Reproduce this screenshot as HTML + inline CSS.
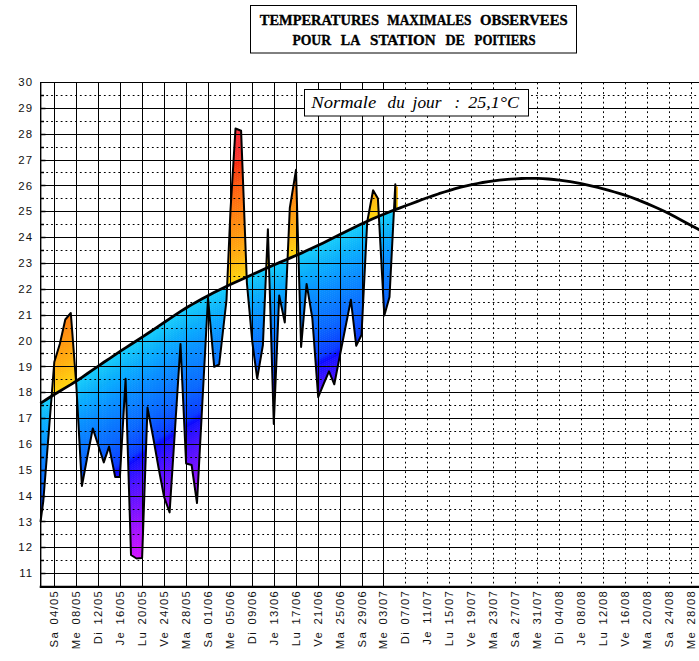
<!DOCTYPE html>
<html><head><meta charset="utf-8"><title>Températures maximales observées - Poitiers</title>
<style>
html,body{margin:0;padding:0;background:#fff;}
body{width:699px;height:661px;overflow:hidden;}
svg{display:block}
.s{stroke:#000;stroke-width:1;fill:none;shape-rendering:crispEdges}
.d{stroke:#000;stroke-width:1;fill:none;stroke-dasharray:1.8 3.0}
.yl{font-family:"Liberation Sans",sans-serif;font-size:11.4px;fill:#111;letter-spacing:1px}
.xl{font-family:"Liberation Sans",sans-serif;font-size:11.3px;fill:#111;letter-spacing:1.3px;word-spacing:2px}
.tt{font-family:"Liberation Serif",serif;font-weight:bold;font-size:15.5px;fill:#000;stroke:#000;stroke-width:0.35px}
.nt{font-family:"Liberation Serif",serif;font-style:italic;font-size:16.5px;fill:#000}
</style></head><body>
<svg width="699" height="661" viewBox="0 0 699 661">
<defs>
<clipPath id="cp"><path d="M40.5,522.0 L43.3,501.0 L48.8,432.0 L54.3,362.0 L59.8,344.0 L65.3,319.5 L70.8,313.0 L76.3,385.0 L81.9,486.0 L87.3,457.0 L92.8,428.4 L98.3,445.5 L103.8,462.4 L109.1,446.6 L115.2,477.0 L119.9,477.0 L125.6,378.7 L131.0,555.0 L136.5,558.5 L142.1,558.0 L147.5,407.6 L153.1,437.0 L158.6,468.0 L164.1,497.0 L169.6,512.4 L175.1,428.0 L180.5,343.9 L186.1,463.5 L191.6,465.0 L197.0,503.0 L202.5,400.0 L208.0,298.0 L214.2,366.8 L219.2,364.5 L226.5,300.0 L230.5,210.0 L235.5,128.5 L241.1,130.7 L246.9,283.0 L252.3,342.0 L257.2,378.6 L262.9,345.0 L267.9,229.3 L273.8,424.0 L279.2,295.5 L284.8,322.5 L289.8,208.0 L296.0,169.8 L301.1,347.0 L306.6,283.9 L312.3,318.0 L318.2,397.2 L323.6,384.0 L329.0,371.4 L334.3,384.3 L339.8,356.0 L345.3,328.0 L350.9,299.8 L356.2,345.7 L361.5,335.0 L367.2,222.0 L373.1,190.3 L377.9,198.6 L384.3,315.6 L389.5,297.0 L395.3,184.2 L397.9,187.2 L397.9,208.8 L394.6,209.9 L389.2,212.0 L383.7,214.2 L378.2,216.5 L372.8,218.8 L367.3,221.3 L361.8,223.8 L356.2,226.5 L350.6,229.2 L345.0,232.0 L339.4,234.8 L334.0,237.5 L328.6,240.2 L323.2,242.9 L317.8,245.5 L312.4,248.1 L306.9,250.6 L301.4,253.1 L295.9,255.5 L290.4,257.9 L284.9,260.3 L279.3,262.6 L273.8,265.0 L268.3,267.4 L262.8,269.8 L257.4,272.2 L251.9,274.7 L246.4,277.2 L240.9,279.7 L235.3,282.2 L229.8,284.8 L224.2,287.5 L218.6,290.2 L213.0,293.0 L207.5,295.9 L202.2,298.8 L196.9,301.7 L191.7,304.6 L186.4,307.8 L181.0,311.2 L175.7,314.7 L170.2,318.4 L164.8,322.0 L159.4,325.6 L153.9,329.3 L148.4,333.0 L142.9,336.6 L137.4,340.2 L131.9,343.7 L126.3,347.3 L120.8,350.9 L115.3,354.6 L109.8,358.3 L104.2,362.0 L98.7,365.8 L93.1,369.6 L87.5,373.5 L82.0,377.3 L76.4,381.0 L70.7,384.6 L64.8,388.1 L59.2,391.5 L54.3,394.5 L49.9,397.2 L46.0,399.7 L42.7,401.8 L40.5,403.2Z"/></clipPath>
<path id="b" d="M38.0,404.8 L40.4,403.3 L42.7,401.8 L46.0,399.7 L49.9,397.2 L54.3,394.5 L59.2,391.5 L64.8,388.1 L70.7,384.6 L76.4,381.0 L82.0,377.3 L87.5,373.5 L93.1,369.6 L98.7,365.8 L104.2,362.0 L109.8,358.3 L115.3,354.6 L120.8,350.9 L126.3,347.3 L131.9,343.7 L137.4,340.2 L142.9,336.6 L148.4,333.0 L153.9,329.3 L159.4,325.6 L164.8,322.0 L170.2,318.4 L175.7,314.7 L181.0,311.2 L186.4,307.8 L191.7,304.6 L196.9,301.7 L202.2,298.8 L207.5,295.9 L213.0,293.0 L218.6,290.2 L224.2,287.5 L229.8,284.8 L235.3,282.2 L240.9,279.7 L246.4,277.2 L251.9,274.7 L257.4,272.2 L262.8,269.8 L268.3,267.4 L273.8,265.0 L279.3,262.6 L284.9,260.3 L290.4,257.9 L295.9,255.5 L301.4,253.1 L306.9,250.6 L312.4,248.1 L317.8,245.5 L323.2,242.9 L328.6,240.2 L334.0,237.5 L339.4,234.8 L345.0,232.0 L350.6,229.2 L356.2,226.5 L361.8,223.8 L367.3,221.3 L372.8,218.8 L378.2,216.5 L383.7,214.2 L389.2,212.0 L394.6,209.9 L400.1,207.9 L400.1,210.5 L394.6,212.5 L389.2,214.6 L383.7,216.8 L378.2,219.1 L372.8,221.4 L367.3,223.9 L361.8,226.4 L356.2,229.1 L350.6,231.8 L345.0,234.6 L339.4,237.4 L334.0,240.1 L328.6,242.8 L323.2,245.5 L317.8,248.1 L312.4,250.7 L306.9,253.2 L301.4,255.7 L295.9,258.1 L290.4,260.5 L284.9,262.9 L279.3,265.2 L273.8,267.6 L268.3,270.0 L262.8,272.4 L257.4,274.8 L251.9,277.3 L246.4,279.8 L240.9,282.3 L235.3,284.8 L229.8,287.4 L224.2,290.1 L218.6,292.8 L213.0,295.6 L207.5,298.5 L202.2,301.4 L196.9,304.3 L191.7,307.2 L186.4,310.4 L181.0,313.8 L175.7,317.3 L170.2,321.0 L164.8,324.6 L159.4,328.2 L153.9,331.9 L148.4,335.6 L142.9,339.2 L137.4,342.8 L131.9,346.3 L126.3,349.9 L120.8,353.5 L115.3,357.2 L109.8,360.9 L104.2,364.6 L98.7,368.4 L93.1,372.2 L87.5,376.1 L82.0,379.9 L76.4,383.6 L70.7,387.2 L64.8,390.8 L59.2,394.1 L54.3,397.1 L49.9,399.8 L46.0,402.3 L42.7,404.4 L40.4,405.9 L38.0,407.4Z"/>
</defs>
<rect width="699" height="661" fill="#fff"/>
<g clip-path="url(#cp)">
<use href="#b" y="-164" fill="#f73147"/>
<use href="#b" y="-162" fill="#f73145"/>
<use href="#b" y="-160" fill="#f73144"/>
<use href="#b" y="-158" fill="#f73143"/>
<use href="#b" y="-156" fill="#f73141"/>
<use href="#b" y="-154" fill="#f73140"/>
<use href="#b" y="-152" fill="#f7313f"/>
<use href="#b" y="-150" fill="#f7313d"/>
<use href="#b" y="-148" fill="#f7313c"/>
<use href="#b" y="-146" fill="#f7313a"/>
<use href="#b" y="-144" fill="#f73139"/>
<use href="#b" y="-142" fill="#f73137"/>
<use href="#b" y="-140" fill="#f73135"/>
<use href="#b" y="-138" fill="#f73134"/>
<use href="#b" y="-136" fill="#f73132"/>
<use href="#b" y="-134" fill="#f73131"/>
<use href="#b" y="-132" fill="#f73331"/>
<use href="#b" y="-130" fill="#f73431"/>
<use href="#b" y="-128" fill="#f73631"/>
<use href="#b" y="-126" fill="#f73831"/>
<use href="#b" y="-124" fill="#f73c31"/>
<use href="#b" y="-122" fill="#f74131"/>
<use href="#b" y="-120" fill="#f72911"/>
<use href="#b" y="-118" fill="#f72f11"/>
<use href="#b" y="-116" fill="#f73511"/>
<use href="#b" y="-114" fill="#f73a11"/>
<use href="#b" y="-112" fill="#f74011"/>
<use href="#b" y="-110" fill="#f74411"/>
<use href="#b" y="-108" fill="#f74711"/>
<use href="#b" y="-106" fill="#f74a11"/>
<use href="#b" y="-104" fill="#f74e11"/>
<use href="#b" y="-102" fill="#f75111"/>
<use href="#b" y="-100" fill="#ff5711"/>
<use href="#b" y="-98" fill="#ff5a11"/>
<use href="#b" y="-96" fill="#ff5d11"/>
<use href="#b" y="-94" fill="#ff6011"/>
<use href="#b" y="-92" fill="#ff6311"/>
<use href="#b" y="-90" fill="#ff6711"/>
<use href="#b" y="-88" fill="#ff6a11"/>
<use href="#b" y="-86" fill="#ff6c11"/>
<use href="#b" y="-84" fill="#ff6e11"/>
<use href="#b" y="-82" fill="#ff7111"/>
<use href="#b" y="-80" fill="#ff7311"/>
<use href="#b" y="-78" fill="#ff7611"/>
<use href="#b" y="-76" fill="#ff7811"/>
<use href="#b" y="-74" fill="#ff7a11"/>
<use href="#b" y="-72" fill="#ff7d11"/>
<use href="#b" y="-70" fill="#ff7f11"/>
<use href="#b" y="-68" fill="#ff8111"/>
<use href="#b" y="-66" fill="#ff8411"/>
<use href="#b" y="-64" fill="#ff8611"/>
<use href="#b" y="-62" fill="#ff8811"/>
<use href="#b" y="-60" fill="#ff8b11"/>
<use href="#b" y="-58" fill="#ff8d11"/>
<use href="#b" y="-56" fill="#ff8f11"/>
<use href="#b" y="-54" fill="#ff9111"/>
<use href="#b" y="-52" fill="#ff9411"/>
<use href="#b" y="-50" fill="#ff9611"/>
<use href="#b" y="-48" fill="#ff9811"/>
<use href="#b" y="-46" fill="#ff9a11"/>
<use href="#b" y="-44" fill="#ff9d11"/>
<use href="#b" y="-42" fill="#ff9f11"/>
<use href="#b" y="-40" fill="#ffa111"/>
<use href="#b" y="-38" fill="#ffa311"/>
<use href="#b" y="-36" fill="#ffa511"/>
<use href="#b" y="-34" fill="#ffa811"/>
<use href="#b" y="-32" fill="#ffaa11"/>
<use href="#b" y="-30" fill="#ffac11"/>
<use href="#b" y="-28" fill="#ffae11"/>
<use href="#b" y="-26" fill="#ffb111"/>
<use href="#b" y="-24" fill="#ffb411"/>
<use href="#b" y="-22" fill="#ffb711"/>
<use href="#b" y="-20" fill="#ffba11"/>
<use href="#b" y="-18" fill="#ffbd11"/>
<use href="#b" y="-16" fill="#ffc011"/>
<use href="#b" y="-14" fill="#ffc311"/>
<use href="#b" y="-12" fill="#ffc611"/>
<use href="#b" y="-10" fill="#ffc911"/>
<use href="#b" y="-8" fill="#ffcc11"/>
<use href="#b" y="-6" fill="#ffcf11"/>
<use href="#b" y="-4" fill="#ffd211"/>
<use href="#b" y="-2" fill="#ffd511"/>
<use href="#b" y="0" fill="#18ccfb"/>
<use href="#b" y="2" fill="#17c9fb"/>
<use href="#b" y="4" fill="#16c7fb"/>
<use href="#b" y="6" fill="#14c4fb"/>
<use href="#b" y="8" fill="#13c1fb"/>
<use href="#b" y="10" fill="#12befb"/>
<use href="#b" y="12" fill="#11bbfb"/>
<use href="#b" y="14" fill="#10b8fb"/>
<use href="#b" y="16" fill="#0eb6fb"/>
<use href="#b" y="18" fill="#0db3fb"/>
<use href="#b" y="20" fill="#0cb0fb"/>
<use href="#b" y="22" fill="#0badfb"/>
<use href="#b" y="24" fill="#0aacff"/>
<use href="#b" y="26" fill="#0aaaff"/>
<use href="#b" y="28" fill="#0aa7ff"/>
<use href="#b" y="30" fill="#0aa4ff"/>
<use href="#b" y="32" fill="#0aa2ff"/>
<use href="#b" y="34" fill="#0a9fff"/>
<use href="#b" y="36" fill="#0a9cff"/>
<use href="#b" y="38" fill="#0a9aff"/>
<use href="#b" y="40" fill="#0a97ff"/>
<use href="#b" y="42" fill="#0a94ff"/>
<use href="#b" y="44" fill="#0a92ff"/>
<use href="#b" y="46" fill="#0a8fff"/>
<use href="#b" y="48" fill="#0a8dff"/>
<use href="#b" y="50" fill="#0a8bff"/>
<use href="#b" y="52" fill="#0a89ff"/>
<use href="#b" y="54" fill="#0a87ff"/>
<use href="#b" y="56" fill="#0a85ff"/>
<use href="#b" y="58" fill="#0a83ff"/>
<use href="#b" y="60" fill="#0a81ff"/>
<use href="#b" y="62" fill="#0a7fff"/>
<use href="#b" y="64" fill="#0a7cff"/>
<use href="#b" y="66" fill="#0a7aff"/>
<use href="#b" y="68" fill="#0a78ff"/>
<use href="#b" y="70" fill="#0a76ff"/>
<use href="#b" y="72" fill="#0a74ff"/>
<use href="#b" y="74" fill="#0a72ff"/>
<use href="#b" y="76" fill="#0a70ff"/>
<use href="#b" y="78" fill="#0a6eff"/>
<use href="#b" y="80" fill="#0a6cff"/>
<use href="#b" y="82" fill="#0a6aff"/>
<use href="#b" y="84" fill="#0a68ff"/>
<use href="#b" y="86" fill="#0a64ff"/>
<use href="#b" y="88" fill="#0a61ff"/>
<use href="#b" y="90" fill="#0a5eff"/>
<use href="#b" y="92" fill="#0a5aff"/>
<use href="#b" y="94" fill="#0a57ff"/>
<use href="#b" y="96" fill="#0a54ff"/>
<use href="#b" y="98" fill="#0a50ff"/>
<use href="#b" y="100" fill="#0a4dff"/>
<use href="#b" y="102" fill="#0a4aff"/>
<use href="#b" y="104" fill="#0a46ff"/>
<use href="#b" y="106" fill="#0a43ff"/>
<use href="#b" y="108" fill="#0a40ff"/>
<use href="#b" y="110" fill="#0a3cff"/>
<use href="#b" y="112" fill="#0a33ff"/>
<use href="#b" y="114" fill="#0a22ff"/>
<use href="#b" y="116" fill="#0a12ff"/>
<use href="#b" y="118" fill="#0c0aff"/>
<use href="#b" y="120" fill="#1911ff"/>
<use href="#b" y="122" fill="#1d11ff"/>
<use href="#b" y="124" fill="#2211ff"/>
<use href="#b" y="126" fill="#2711ff"/>
<use href="#b" y="128" fill="#2c11ff"/>
<use href="#b" y="130" fill="#3111ff"/>
<use href="#b" y="132" fill="#3511ff"/>
<use href="#b" y="134" fill="#3a11ff"/>
<use href="#b" y="136" fill="#3f11ff"/>
<use href="#b" y="138" fill="#4411ff"/>
<use href="#b" y="140" fill="#4911ff"/>
<use href="#b" y="142" fill="#4c11ff"/>
<use href="#b" y="144" fill="#5011ff"/>
<use href="#b" y="146" fill="#5411ff"/>
<use href="#b" y="148" fill="#5711ff"/>
<use href="#b" y="150" fill="#5b11ff"/>
<use href="#b" y="152" fill="#5f11ff"/>
<use href="#b" y="154" fill="#6211ff"/>
<use href="#b" y="156" fill="#6611ff"/>
<use href="#b" y="158" fill="#6a11ff"/>
<use href="#b" y="160" fill="#6d11ff"/>
<use href="#b" y="162" fill="#7111ff"/>
<use href="#b" y="164" fill="#7411ff"/>
<use href="#b" y="166" fill="#7811ff"/>
<use href="#b" y="168" fill="#7c11ff"/>
<use href="#b" y="170" fill="#8011ff"/>
<use href="#b" y="172" fill="#8411ff"/>
<use href="#b" y="174" fill="#8711ff"/>
<use href="#b" y="176" fill="#8b11ff"/>
<use href="#b" y="178" fill="#8f11ff"/>
<use href="#b" y="180" fill="#9311ff"/>
<use href="#b" y="182" fill="#9711ff"/>
<use href="#b" y="184" fill="#9a11ff"/>
<use href="#b" y="186" fill="#9e11ff"/>
<use href="#b" y="188" fill="#a211ff"/>
<use href="#b" y="190" fill="#a611ff"/>
<use href="#b" y="192" fill="#aa11ff"/>
<use href="#b" y="194" fill="#ad11ff"/>
<use href="#b" y="196" fill="#b011ff"/>
<use href="#b" y="198" fill="#b411ff"/>
<use href="#b" y="200" fill="#b711ff"/>
<use href="#b" y="202" fill="#ba11ff"/>
<use href="#b" y="204" fill="#be11ff"/>
<use href="#b" y="206" fill="#c111ff"/>
<use href="#b" y="208" fill="#c411ff"/>
<use href="#b" y="210" fill="#c811ff"/>
<use href="#b" y="212" fill="#cb11ff"/>
<use href="#b" y="214" fill="#ce11ff"/>
<use href="#b" y="216" fill="#d111ff"/>
<use href="#b" y="218" fill="#d411ff"/>
<use href="#b" y="220" fill="#d711ff"/>
<use href="#b" y="222" fill="#da11ff"/>
<use href="#b" y="224" fill="#dd11ff"/>
<use href="#b" y="226" fill="#e011ff"/>
<use href="#b" y="228" fill="#e311ff"/>
<use href="#b" y="230" fill="#e511ff"/>
</g>
<g>
<path d="M40.5,573.5H699" class="s"/>
<path d="M40.5,547.5H699" class="s"/>
<path d="M40.5,521.5H699" class="s"/>
<path d="M40.5,496.5H699" class="s"/>
<path d="M40.5,470.5H699" class="s"/>
<path d="M40.5,444.5H699" class="s"/>
<path d="M40.5,418.5H699" class="s"/>
<path d="M40.5,392.5H699" class="s"/>
<path d="M40.5,366.5H699" class="s"/>
<path d="M40.5,341.5H699" class="s"/>
<path d="M40.5,315.5H699" class="s"/>
<path d="M40.5,289.5H699" class="s"/>
<path d="M40.5,263.5H699" class="s"/>
<path d="M40.5,237.5H699" class="s"/>
<path d="M40.5,211.5H699" class="s"/>
<path d="M40.5,185.5H699" class="s"/>
<path d="M40.5,160.5H699" class="s"/>
<path d="M40.5,134.5H699" class="s"/>
<path d="M40.5,108.5H699" class="s"/>
<path d="M40.5,82.5H699" class="s"/>
<path d="M41.5,560.5H699" class="d"/>
<path d="M41.5,534.5H699" class="d"/>
<path d="M41.5,509.5H699" class="d"/>
<path d="M41.5,483.5H699" class="d"/>
<path d="M41.5,457.5H699" class="d"/>
<path d="M41.5,431.5H699" class="d"/>
<path d="M41.5,405.5H699" class="d"/>
<path d="M41.5,379.5H699" class="d"/>
<path d="M41.5,353.5H699" class="d"/>
<path d="M41.5,328.5H699" class="d"/>
<path d="M41.5,302.5H699" class="d"/>
<path d="M41.5,276.5H699" class="d"/>
<path d="M41.5,250.5H699" class="d"/>
<path d="M41.5,224.5H699" class="d"/>
<path d="M41.5,198.5H699" class="d"/>
<path d="M41.5,172.5H699" class="d"/>
<path d="M41.5,147.5H699" class="d"/>
<path d="M41.5,121.5H699" class="d"/>
<path d="M41.5,95.5H699" class="d"/>
<path d="M54.5,82.5V586.6" class="s"/>
<path d="M76.5,82.5V586.6" class="s"/>
<path d="M98.5,82.5V586.6" class="s"/>
<path d="M120.5,82.5V586.6" class="s"/>
<path d="M142.5,82.5V586.6" class="s"/>
<path d="M164.5,82.5V586.6" class="s"/>
<path d="M186.5,82.5V586.6" class="s"/>
<path d="M208.5,82.5V586.6" class="s"/>
<path d="M230.5,82.5V586.6" class="s"/>
<path d="M252.5,82.5V586.6" class="s"/>
<path d="M274.5,82.5V586.6" class="s"/>
<path d="M296.5,82.5V586.6" class="s"/>
<path d="M318.5,82.5V586.6" class="s"/>
<path d="M340.5,82.5V586.6" class="s"/>
<path d="M362.5,82.5V586.6" class="s"/>
<path d="M383.5,82.5V586.6" class="s"/>
<path d="M405.5,82.5V586.6" class="d"/>
<path d="M427.5,82.5V586.6" class="d"/>
<path d="M449.5,82.5V586.6" class="d"/>
<path d="M471.5,82.5V586.6" class="d"/>
<path d="M493.5,82.5V586.6" class="d"/>
<path d="M515.5,82.5V586.6" class="d"/>
<path d="M537.5,82.5V586.6" class="d"/>
<path d="M559.5,82.5V586.6" class="d"/>
<path d="M581.5,82.5V586.6" class="d"/>
<path d="M603.5,82.5V586.6" class="d"/>
<path d="M625.5,82.5V586.6" class="d"/>
<path d="M647.5,82.5V586.6" class="d"/>
<path d="M669.5,82.5V586.6" class="d"/>
<path d="M691.5,82.5V586.6" class="d"/>
</g>
<g><path d="M40.5,573.5h5" stroke="#000" stroke-width="1.5"/>
<path d="M40.5,560.5h3.5" stroke="#000" stroke-width="1.5"/>
<path d="M40.5,547.5h5" stroke="#000" stroke-width="1.5"/>
<path d="M40.5,534.5h3.5" stroke="#000" stroke-width="1.5"/>
<path d="M40.5,521.5h5" stroke="#000" stroke-width="1.5"/>
<path d="M40.5,509.5h3.5" stroke="#000" stroke-width="1.5"/>
<path d="M40.5,496.5h5" stroke="#000" stroke-width="1.5"/>
<path d="M40.5,483.5h3.5" stroke="#000" stroke-width="1.5"/>
<path d="M40.5,470.5h5" stroke="#000" stroke-width="1.5"/>
<path d="M40.5,457.5h3.5" stroke="#000" stroke-width="1.5"/>
<path d="M40.5,444.5h5" stroke="#000" stroke-width="1.5"/>
<path d="M40.5,431.5h3.5" stroke="#000" stroke-width="1.5"/>
<path d="M40.5,418.5h5" stroke="#000" stroke-width="1.5"/>
<path d="M40.5,405.5h3.5" stroke="#000" stroke-width="1.5"/>
<path d="M40.5,392.5h5" stroke="#000" stroke-width="1.5"/>
<path d="M40.5,379.5h3.5" stroke="#000" stroke-width="1.5"/>
<path d="M40.5,366.5h5" stroke="#000" stroke-width="1.5"/>
<path d="M40.5,353.5h3.5" stroke="#000" stroke-width="1.5"/>
<path d="M40.5,341.5h5" stroke="#000" stroke-width="1.5"/>
<path d="M40.5,328.5h3.5" stroke="#000" stroke-width="1.5"/>
<path d="M40.5,315.5h5" stroke="#000" stroke-width="1.5"/>
<path d="M40.5,302.5h3.5" stroke="#000" stroke-width="1.5"/>
<path d="M40.5,289.5h5" stroke="#000" stroke-width="1.5"/>
<path d="M40.5,276.5h3.5" stroke="#000" stroke-width="1.5"/>
<path d="M40.5,263.5h5" stroke="#000" stroke-width="1.5"/>
<path d="M40.5,250.5h3.5" stroke="#000" stroke-width="1.5"/>
<path d="M40.5,237.5h5" stroke="#000" stroke-width="1.5"/>
<path d="M40.5,224.5h3.5" stroke="#000" stroke-width="1.5"/>
<path d="M40.5,211.5h5" stroke="#000" stroke-width="1.5"/>
<path d="M40.5,198.5h3.5" stroke="#000" stroke-width="1.5"/>
<path d="M40.5,185.5h5" stroke="#000" stroke-width="1.5"/>
<path d="M40.5,172.5h3.5" stroke="#000" stroke-width="1.5"/>
<path d="M40.5,160.5h5" stroke="#000" stroke-width="1.5"/>
<path d="M40.5,147.5h3.5" stroke="#000" stroke-width="1.5"/>
<path d="M40.5,134.5h5" stroke="#000" stroke-width="1.5"/>
<path d="M40.5,121.5h3.5" stroke="#000" stroke-width="1.5"/>
<path d="M40.5,108.5h5" stroke="#000" stroke-width="1.5"/>
<path d="M40.5,95.5h3.5" stroke="#000" stroke-width="1.5"/></g>
<path d="M40.5,522.0 L43.3,501.0 L48.8,432.0 L54.3,362.0 L59.8,344.0 L65.3,319.5 L70.8,313.0 L76.3,385.0 L81.9,486.0 L87.3,457.0 L92.8,428.4 L98.3,445.5 L103.8,462.4 L109.1,446.6 L115.2,477.0 L119.9,477.0 L125.6,378.7 L131.0,555.0 L136.5,558.5 L142.1,558.0 L147.5,407.6 L153.1,437.0 L158.6,468.0 L164.1,497.0 L169.6,512.4 L175.1,428.0 L180.5,343.9 L186.1,463.5 L191.6,465.0 L197.0,503.0 L202.5,400.0 L208.0,298.0 L214.2,366.8 L219.2,364.5 L226.5,300.0 L230.5,210.0 L235.5,128.5 L241.1,130.7 L246.9,283.0 L252.3,342.0 L257.2,378.6 L262.9,345.0 L267.9,229.3 L273.8,424.0 L279.2,295.5 L284.8,322.5 L289.8,208.0 L296.0,169.8 L301.1,347.0 L306.6,283.9 L312.3,318.0 L318.2,397.2 L323.6,384.0 L329.0,371.4 L334.3,384.3 L339.8,356.0 L345.3,328.0 L350.9,299.8 L356.2,345.7 L361.5,335.0 L367.2,222.0 L373.1,190.3 L377.9,198.6 L384.3,315.6 L389.5,297.0 L395.3,184.2V209.8" fill="none" stroke="#000" stroke-width="2" stroke-linejoin="round"/>
<path d="M40.4,403.3 L42.7,401.8 L46.0,399.7 L49.9,397.2 L54.3,394.5 L59.2,391.5 L64.8,388.1 L70.7,384.6 L76.4,381.0 L82.0,377.3 L87.5,373.5 L93.1,369.6 L98.7,365.8 L104.2,362.0 L109.8,358.3 L115.3,354.6 L120.8,350.9 L126.3,347.3 L131.9,343.7 L137.4,340.2 L142.9,336.6 L148.4,333.0 L153.9,329.3 L159.4,325.6 L164.8,322.0 L170.2,318.4 L175.7,314.7 L181.0,311.2 L186.4,307.8 L191.7,304.6 L196.9,301.7 L202.2,298.8 L207.5,295.9 L213.0,293.0 L218.6,290.2 L224.2,287.5 L229.8,284.8 L235.3,282.2 L240.9,279.7 L246.4,277.2 L251.9,274.7 L257.4,272.2 L262.8,269.8 L268.3,267.4 L273.8,265.0 L279.3,262.6 L284.9,260.3 L290.4,257.9 L295.9,255.5 L301.4,253.1 L306.9,250.6 L312.4,248.1 L317.8,245.5 L323.2,242.9 L328.6,240.2 L334.0,237.5 L339.4,234.8 L345.0,232.0 L350.6,229.2 L356.2,226.5 L361.8,223.8 L367.3,221.3 L372.8,218.8 L378.2,216.5 L383.7,214.2 L389.2,212.0 L394.6,209.9 L400.1,207.9 L405.6,205.8 L411.2,203.7 L416.8,201.6 L422.3,199.5 L427.9,197.5 L433.4,195.6 L438.9,193.7 L444.3,192.0 L449.8,190.3 L455.3,188.7 L460.9,187.2 L466.4,185.9 L471.9,184.6 L477.4,183.5 L482.8,182.5 L488.3,181.6 L493.8,180.8 L499.3,180.1 L504.9,179.6 L510.4,179.1 L515.9,178.8 L521.3,178.5 L526.6,178.4 L531.9,178.3 L537.3,178.4 L542.8,178.6 L548.3,179.0 L553.8,179.5 L559.3,180.1 L564.8,180.8 L570.2,181.6 L575.7,182.6 L581.2,183.6 L586.7,184.8 L592.2,186.1 L597.8,187.4 L603.3,188.9 L608.9,190.4 L614.5,192.0 L620.0,193.6 L625.6,195.4 L631.1,197.3 L636.7,199.4 L642.2,201.6 L647.7,203.9 L653.2,206.3 L658.8,208.7 L664.3,211.3 L669.8,214.0 L675.5,217.0 L681.4,220.2 L687.0,223.2 L691.7,225.8 L695.5,227.8 L698.7,229.4 L701.2,230.7 L703.0,231.6" fill="none" stroke="#000" stroke-width="2.8" stroke-linejoin="round"/>
<path d="M40.7,82.0V587.6" stroke="#000" stroke-width="1.4"/>
<path d="M39.7,586.8H699" stroke="#000" stroke-width="2.2"/>
<rect x="304.5" y="89.5" width="224" height="26.5" fill="#fff" stroke="#000" stroke-width="1"/>
<text x="311.3" y="108.3" class="nt" textLength="64.9" lengthAdjust="spacingAndGlyphs">Normale</text>
<text x="387.6" y="108.3" class="nt" textLength="17.1" lengthAdjust="spacingAndGlyphs">du</text>
<text x="412.6" y="108.3" class="nt" textLength="28.9" lengthAdjust="spacingAndGlyphs">jour</text>
<text x="454.5" y="108.3" class="nt">:</text>
<text x="468.2" y="108.3" class="nt" textLength="50.8" lengthAdjust="spacingAndGlyphs">25,1°C</text>
<rect x="250.5" y="5.5" width="326" height="47.5" fill="#fff" stroke="#000" stroke-width="1"/>
<text x="259.8" y="25.3" class="tt" textLength="119.2" lengthAdjust="spacingAndGlyphs">TEMPERATURES</text>
<text x="387.2" y="25.3" class="tt" textLength="84.2" lengthAdjust="spacingAndGlyphs">MAXIMALES</text>
<text x="480" y="25.3" class="tt" textLength="87.6" lengthAdjust="spacingAndGlyphs">OBSERVEES</text>
<text x="292.4" y="44.6" class="tt" textLength="38.7" lengthAdjust="spacingAndGlyphs">POUR</text>
<text x="340.8" y="44.6" class="tt" textLength="19.5" lengthAdjust="spacingAndGlyphs">LA</text>
<text x="370" y="44.6" class="tt" textLength="65.7" lengthAdjust="spacingAndGlyphs">STATION</text>
<text x="445.4" y="44.6" class="tt" textLength="19.5" lengthAdjust="spacingAndGlyphs">DE</text>
<text x="474.6" y="44.6" class="tt" textLength="61.0" lengthAdjust="spacingAndGlyphs">POITIERS</text>
<g><text x="33.0" y="577.3" text-anchor="end" class="yl">11</text>
<text x="33.0" y="551.4" text-anchor="end" class="yl">12</text>
<text x="33.0" y="525.6" text-anchor="end" class="yl">13</text>
<text x="33.0" y="499.7" text-anchor="end" class="yl">14</text>
<text x="33.0" y="473.9" text-anchor="end" class="yl">15</text>
<text x="33.0" y="448.0" text-anchor="end" class="yl">16</text>
<text x="33.0" y="422.2" text-anchor="end" class="yl">17</text>
<text x="33.0" y="396.3" text-anchor="end" class="yl">18</text>
<text x="33.0" y="370.5" text-anchor="end" class="yl">19</text>
<text x="33.0" y="344.6" text-anchor="end" class="yl">20</text>
<text x="33.0" y="318.8" text-anchor="end" class="yl">21</text>
<text x="33.0" y="292.9" text-anchor="end" class="yl">22</text>
<text x="33.0" y="267.1" text-anchor="end" class="yl">23</text>
<text x="33.0" y="241.2" text-anchor="end" class="yl">24</text>
<text x="33.0" y="215.3" text-anchor="end" class="yl">25</text>
<text x="33.0" y="189.5" text-anchor="end" class="yl">26</text>
<text x="33.0" y="163.7" text-anchor="end" class="yl">27</text>
<text x="33.0" y="137.8" text-anchor="end" class="yl">28</text>
<text x="33.0" y="111.9" text-anchor="end" class="yl">29</text>
<text x="33.0" y="86.1" text-anchor="end" class="yl">30</text></g>
<g><text transform="translate(57.8,589.8) rotate(-90)" text-anchor="end" class="xl">Sa 04/05</text>
<text transform="translate(79.8,589.8) rotate(-90)" text-anchor="end" class="xl">Me 08/05</text>
<text transform="translate(101.8,589.8) rotate(-90)" text-anchor="end" class="xl">Di 12/05</text>
<text transform="translate(123.8,589.8) rotate(-90)" text-anchor="end" class="xl">Je 16/05</text>
<text transform="translate(145.8,589.8) rotate(-90)" text-anchor="end" class="xl">Lu 20/05</text>
<text transform="translate(167.8,589.8) rotate(-90)" text-anchor="end" class="xl">Ve 24/05</text>
<text transform="translate(189.8,589.8) rotate(-90)" text-anchor="end" class="xl">Ma 28/05</text>
<text transform="translate(211.8,589.8) rotate(-90)" text-anchor="end" class="xl">Sa 01/06</text>
<text transform="translate(233.8,589.8) rotate(-90)" text-anchor="end" class="xl">Me 05/06</text>
<text transform="translate(255.8,589.8) rotate(-90)" text-anchor="end" class="xl">Di 09/06</text>
<text transform="translate(277.8,589.8) rotate(-90)" text-anchor="end" class="xl">Je 13/06</text>
<text transform="translate(299.8,589.8) rotate(-90)" text-anchor="end" class="xl">Lu 17/06</text>
<text transform="translate(321.8,589.8) rotate(-90)" text-anchor="end" class="xl">Ve 21/06</text>
<text transform="translate(343.8,589.8) rotate(-90)" text-anchor="end" class="xl">Ma 25/06</text>
<text transform="translate(365.8,589.8) rotate(-90)" text-anchor="end" class="xl">Sa 29/06</text>
<text transform="translate(386.8,589.8) rotate(-90)" text-anchor="end" class="xl">Me 03/07</text>
<text transform="translate(408.8,589.8) rotate(-90)" text-anchor="end" class="xl">Di 07/07</text>
<text transform="translate(430.8,589.8) rotate(-90)" text-anchor="end" class="xl">Je 11/07</text>
<text transform="translate(452.8,589.8) rotate(-90)" text-anchor="end" class="xl">Lu 15/07</text>
<text transform="translate(474.8,589.8) rotate(-90)" text-anchor="end" class="xl">Ve 19/07</text>
<text transform="translate(496.8,589.8) rotate(-90)" text-anchor="end" class="xl">Ma 23/07</text>
<text transform="translate(518.8,589.8) rotate(-90)" text-anchor="end" class="xl">Sa 27/07</text>
<text transform="translate(540.8,589.8) rotate(-90)" text-anchor="end" class="xl">Me 31/07</text>
<text transform="translate(562.8,589.8) rotate(-90)" text-anchor="end" class="xl">Di 04/08</text>
<text transform="translate(584.8,589.8) rotate(-90)" text-anchor="end" class="xl">Je 08/08</text>
<text transform="translate(606.8,589.8) rotate(-90)" text-anchor="end" class="xl">Lu 12/08</text>
<text transform="translate(628.8,589.8) rotate(-90)" text-anchor="end" class="xl">Ve 16/08</text>
<text transform="translate(650.8,589.8) rotate(-90)" text-anchor="end" class="xl">Ma 20/08</text>
<text transform="translate(672.8,589.8) rotate(-90)" text-anchor="end" class="xl">Sa 24/08</text>
<text transform="translate(694.8,589.8) rotate(-90)" text-anchor="end" class="xl">Me 28/08</text></g>
</svg>
</body></html>
